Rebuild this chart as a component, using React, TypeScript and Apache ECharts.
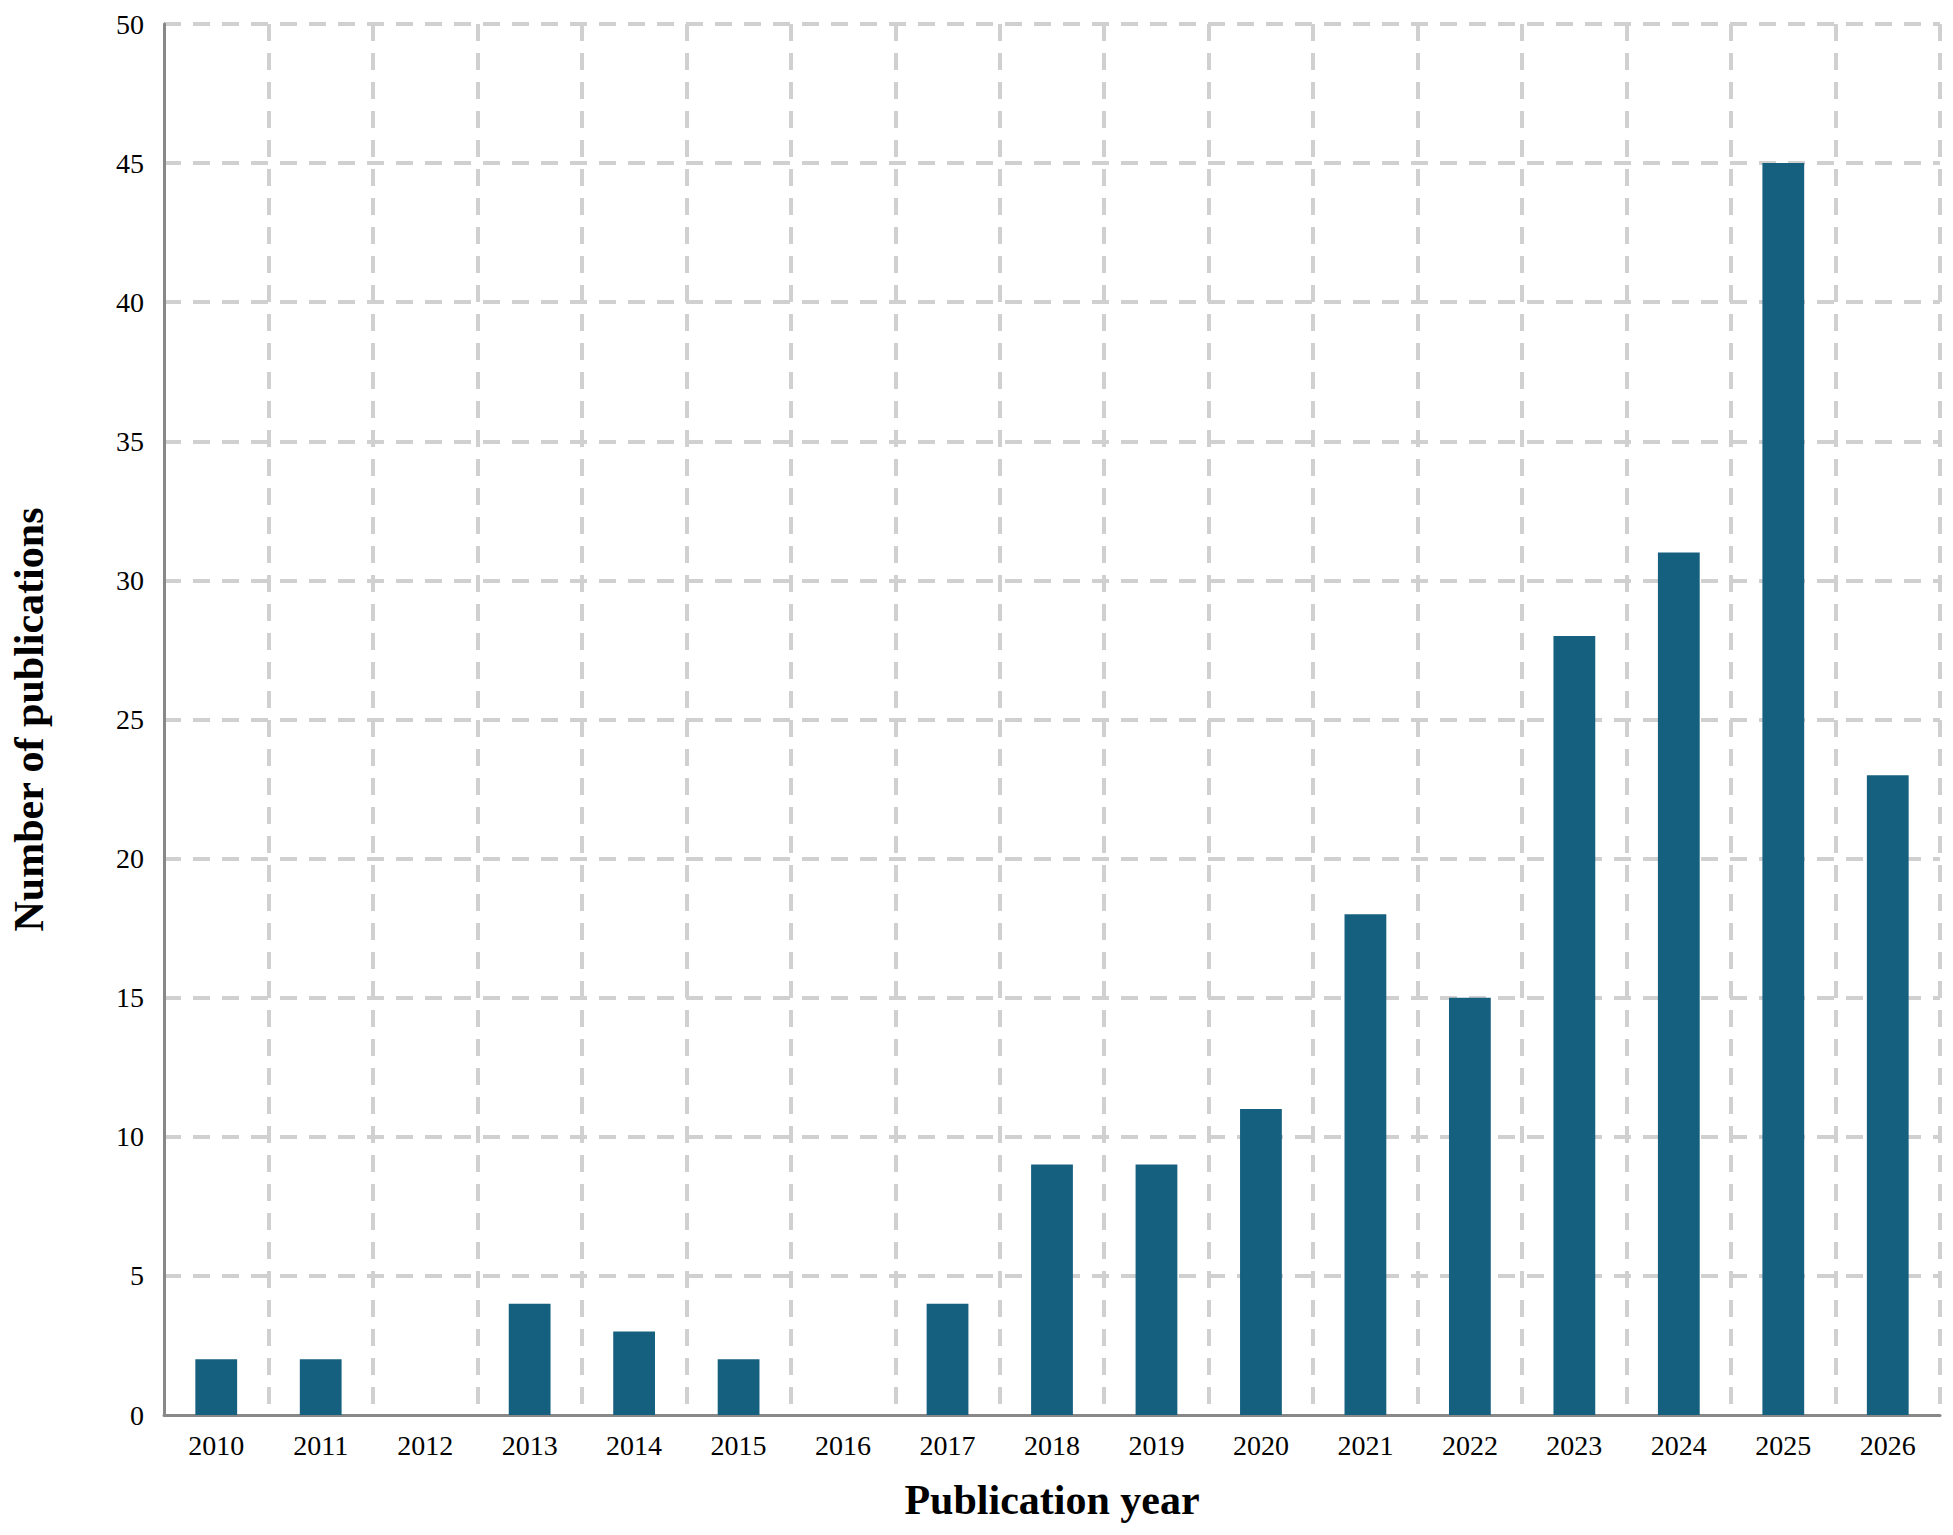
import React, { useEffect, useRef } from "react";
import * as echarts from "echarts";

const years = ["2010", "2011", "2012", "2013", "2014", "2015", "2016", "2017", "2018", "2019", "2020", "2021", "2022", "2023", "2024", "2025", "2026"];
const publications = [2, 2, 0, 4, 3, 2, 0, 4, 9, 9, 11, 18, 15, 28, 31, 45, 23];
const yTicks = { min: 0, max: 50, interval: 5 };
const xTitle = "Publication year";
const yTitle = "Number of publications";

const FONT = '"Liberation Serif", "Times New Roman", serif';

export default function App() {
  const ref = useRef<HTMLDivElement>(null);
  useEffect(() => {
    if (!ref.current) return;
    const chart = echarts.init(ref.current, undefined, { renderer: "svg" });
    const gridLine = { color: "#d0d0d0", width: 4, type: [17, 12] };
    chart.setOption({
      animation: false,
      backgroundColor: "#ffffff",
      grid: { left: 163, right: 13, top: 24, bottom: 120, containLabel: false },
      xAxis: {
        type: "category",
        data: years,
        boundaryGap: true,
        name: xTitle,
        nameLocation: "middle",
        nameGap: 64,
        nameTextStyle: { fontFamily: FONT, fontSize: 42, fontWeight: "bold", color: "#000" },
        axisLine: { show: true, lineStyle: { color: "#888888", width: 3 } },
        axisTick: { show: false },
        axisLabel: { fontFamily: FONT, fontSize: 28, color: "#000", margin: 16, interval: 0 },
        splitLine: { show: true, interval: 0, showMinLine: false, lineStyle: gridLine },
      },
      yAxis: {
        type: "value",
        min: yTicks.min,
        max: yTicks.max,
        interval: yTicks.interval,
        name: yTitle,
        nameLocation: "middle",
        nameGap: 114,
        nameTextStyle: { fontFamily: FONT, fontSize: 42, fontWeight: "bold", color: "#000" },
        axisLine: { show: true, lineStyle: { color: "#888888", width: 3 } },
        axisTick: { show: false },
        axisLabel: { fontFamily: FONT, fontSize: 28, color: "#000", margin: 20 },
        splitLine: { show: true, showMinLine: false, lineStyle: gridLine },
      },
      series: [
        {
          type: "bar",
          data: publications,
          barWidth: "40%",
          itemStyle: { color: "#16607f" },
        },
      ],
    });
    return () => chart.dispose();
  }, []);
  return (
    <div
      ref={ref}
      style={{ position: "absolute", left: 0, top: 0, width: 1953, height: 1535 }}
    />
  );
}
